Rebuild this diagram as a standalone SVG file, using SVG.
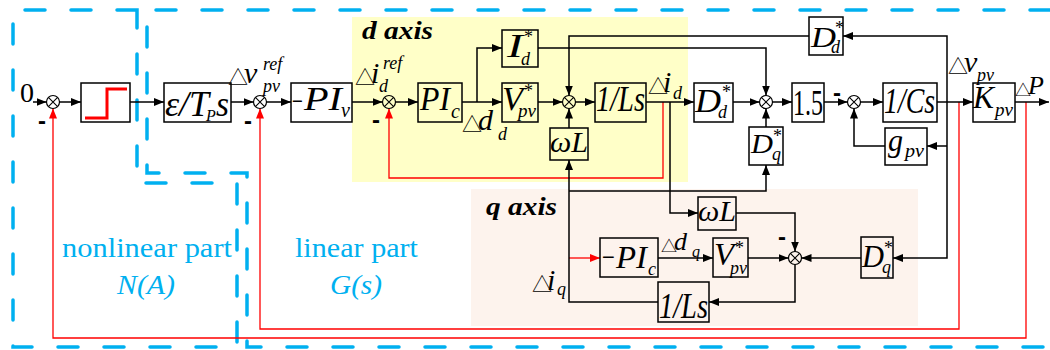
<svg xmlns="http://www.w3.org/2000/svg" width="1050" height="350" viewBox="0 0 1050 350" font-family="Liberation Serif">
<defs>
<marker id="a" markerWidth="10" markerHeight="8" refX="10" refY="4" orient="auto" markerUnits="userSpaceOnUse"><path d="M0,0 L10,4 L0,8 z" fill="#000" stroke="none"/></marker>
<marker id="ar" markerWidth="10" markerHeight="8" refX="10" refY="4" orient="auto" markerUnits="userSpaceOnUse"><path d="M0,0 L10,4 L0,8 z" fill="#f00" stroke="none"/></marker>
<g id="sumj"><circle r="6.5" fill="none" stroke="#000" stroke-width="1.2"/><path d="M-4.6,-4.6 L4.6,4.6 M-4.6,4.6 L4.6,-4.6" stroke="#000" stroke-width="1.1"/></g>
</defs>
<rect width="1050" height="350" fill="#fff"/>
<rect id="d-axis-bg" x="352" y="17" width="336" height="165" fill="#FFFFC8"/>
<rect id="q-axis-bg" x="471" y="189" width="447" height="137" fill="#FDF3ED"/>
<g id="regions">
<g fill="none" stroke="#00B0F0" stroke-width="3.5" stroke-dasharray="20 26" stroke-linecap="round">
<path d="M137,10 H13 V347 H237 V183 H137 Z"/>
<path d="M1050,10 H147 V173 H247 V347 H1050"/>
</g>
<g font-family="Liberation Serif" fill="#00B0F0" font-size="28">
<text x="62" y="257" textLength="170" lengthAdjust="spacingAndGlyphs">nonlinear part</text>
<text x="117" y="294" font-style="italic" textLength="58" lengthAdjust="spacingAndGlyphs">N(A)</text>
<text x="295" y="257" textLength="123" lengthAdjust="spacingAndGlyphs">linear part</text>
<text x="330" y="294" font-style="italic" textLength="52" lengthAdjust="spacingAndGlyphs">G(s)</text>
</g>
<g font-family="Liberation Serif" font-style="italic" font-weight="bold" font-size="26" fill="#000">
<text x="362" y="39" textLength="71" lengthAdjust="spacingAndGlyphs">d axis</text>
<text x="486" y="215" textLength="71" lengthAdjust="spacingAndGlyphs">q axis</text>
</g>
</g>
<g id="connectors" fill="none" stroke="#000" stroke-width="1.5">
<g stroke="#f00" stroke-width="1.3">
<path d="M663,102 V178 H389 V108.5" marker-end="url(#ar)"/>
<path d="M569,258 H600" marker-end="url(#ar)"/>
<path d="M959,102 V329 H260 V108.5" marker-end="url(#ar)"/>
<path d="M1026,102 V338 H53 V108.5" marker-end="url(#ar)"/>
</g>
<path d="M33,102 H46.5" marker-end="url(#a)"/>
<path d="M59.5,102 H81" marker-end="url(#a)"/>
<path d="M130,102 H164" marker-end="url(#a)"/>
<path d="M231,102 H253.5" marker-end="url(#a)"/>
<path d="M266.5,102 H291" marker-end="url(#a)"/>
<path d="M352,102 H382.5" marker-end="url(#a)"/>
<path d="M395.5,102 H418" marker-end="url(#a)"/>
<path d="M462,102 H502" marker-end="url(#a)"/>
<path d="M477,102 V48 H502" marker-end="url(#a)"/>
<path d="M538,102 H562.5" marker-end="url(#a)"/>
<path d="M575.5,102 H595" marker-end="url(#a)"/>
<path d="M646,102 H694" marker-end="url(#a)"/>
<path d="M733,102 H759.5" marker-end="url(#a)"/>
<path d="M772.5,102 H792" marker-end="url(#a)"/>
<path d="M824,102 H847.5" marker-end="url(#a)"/>
<path d="M860.5,102 H883" marker-end="url(#a)"/>
<path d="M937,102 H973" marker-end="url(#a)"/>
<path d="M1015,102 H1049" marker-end="url(#a)"/>
<path d="M947,102 V36 H843" marker-end="url(#a)"/>
<path d="M947,102 V258 H893" marker-end="url(#a)"/>
<path d="M947,146 H927" marker-end="url(#a)"/>
<path d="M809,36 H569 V95.5" marker-end="url(#a)"/>
<path d="M538,48 H766 V95.5" marker-end="url(#a)"/>
<path d="M569,128 V108.5" marker-end="url(#a)"/>
<path d="M766,127 V108.5" marker-end="url(#a)"/>
<path d="M885,146 H854 V108.5" marker-end="url(#a)"/>
<path d="M658,302 H569 V160" marker-end="url(#a)"/>
<path d="M569,191 H766 V165" marker-end="url(#a)"/>
<path d="M670,102 V213 H698" marker-end="url(#a)"/>
<path d="M736,213 H795 V251.5" marker-end="url(#a)"/>
<path d="M658,258 H713" marker-end="url(#a)"/>
<path d="M748,258 H788.5" marker-end="url(#a)"/>
<path d="M861,258 H801.5" marker-end="url(#a)"/>
<path d="M795,264.5 V302 H709" marker-end="url(#a)"/>
</g>
<g id="labels" fill="#000">
<text font-family="Liberation Serif" x="20" y="102" font-size="28">0</text>
<g font-family="Liberation Sans" font-weight="bold" font-size="24">
<text x="38" y="129">-</text>
<text x="244" y="129">-</text>
<text x="372" y="128">-</text>
<text x="833" y="101">-</text>
<text x="778" y="245">-</text>
</g>
<g font-family="Noto Sans CJK SC" font-size="20">
<text x="228" y="85">△</text>
<text x="355" y="85">△</text>
<text x="462" y="132">△</text>
<text x="648" y="94">△</text>
<text x="948" y="74">△</text>
<text x="1015" y="96" font-size="16">△</text>
<text x="532" y="292">△</text>
<text x="661" y="252" font-size="16">△</text>
</g>
<g font-family="Liberation Serif" font-style="italic">
<text x="244" y="83" font-size="30">v</text>
<text x="263" y="70" font-size="18">ref</text>
<text x="263" y="92" font-size="18">pv</text>
<text x="371" y="83" font-size="30">i</text>
<text x="383" y="69" font-size="18">ref</text>
<text x="379" y="92" font-size="18">d</text>
<text x="478" y="130" font-size="30">d</text>
<text x="498" y="140" font-size="18">d</text>
<text x="663" y="92" font-size="30">i</text>
<text x="673" y="99" font-size="18">d</text>
<text x="964" y="72" font-size="30">v</text>
<text x="977" y="81" font-size="18">pv</text>
<text x="1028" y="94" font-size="26">P</text>
<text x="547" y="290" font-size="30">i</text>
<text x="557" y="295" font-size="18">q</text>
<text x="674" y="250" font-size="26">d</text>
<text x="692" y="257" font-size="16">q</text>
</g>
</g>
<g id="sum1"><use href="#sumj" transform="translate(53,102)"/></g>
<g id="sum2"><use href="#sumj" transform="translate(260,102)"/></g>
<g id="sum3"><use href="#sumj" transform="translate(389,102)"/></g>
<g id="sum4"><use href="#sumj" transform="translate(569,102)"/></g>
<g id="sum5"><use href="#sumj" transform="translate(766,102)"/></g>
<g id="sum6"><use href="#sumj" transform="translate(854,102)"/></g>
<g id="sumq"><use href="#sumj" transform="translate(795,258)"/></g>
<g id="saturation"><rect x="81" y="83" width="49" height="39" fill="none" stroke="#000" stroke-width="1.5"/><path d="M85,118 H107 V89 H127" fill="none" stroke="#f00" stroke-width="3"/></g>
<g id="blocks" font-family="Liberation Serif" font-style="italic" fill="#000">
<g id="eps-Tps"><rect x="164" y="83" width="67" height="39" fill="none" stroke="#000" stroke-width="1.5"/>
<text x="165" y="116" font-size="36" textLength="44" lengthAdjust="spacingAndGlyphs">ε/T</text>
<text x="206" y="121" font-size="16">P</text>
<text x="216" y="116" font-size="36" textLength="13" lengthAdjust="spacingAndGlyphs">s</text></g>
<g id="PIv"><rect x="291" y="83" width="61" height="39" fill="none" stroke="#000" stroke-width="1.5"/>
<text x="292" y="111" font-size="30" font-style="normal" textLength="11" lengthAdjust="spacingAndGlyphs">−</text>
<text x="304" y="110" font-size="34" textLength="38" lengthAdjust="spacingAndGlyphs">PI</text>
<text x="341" y="117" font-size="20">v</text></g>
<g id="PIc"><rect x="418" y="83" width="44" height="39" fill="none" stroke="#000" stroke-width="1.5"/>
<text x="420" y="110" font-size="34" textLength="30" lengthAdjust="spacingAndGlyphs">PI</text>
<text x="451" y="118" font-size="20">c</text></g>
<g id="Id"><rect x="502" y="30" width="36" height="37" fill="none" stroke="#000" stroke-width="1.5"/>
<text x="507" y="57" font-size="34" textLength="16" lengthAdjust="spacingAndGlyphs">I</text>
<text x="524" y="43" font-size="18" font-style="normal">*</text>
<text x="521" y="65" font-size="18">d</text></g>
<g id="Vpv-d"><rect x="502" y="83" width="36" height="39" fill="none" stroke="#000" stroke-width="1.5"/>
<text x="502" y="110" font-size="34" textLength="21" lengthAdjust="spacingAndGlyphs">V</text>
<text x="524" y="97" font-size="18" font-style="normal">*</text>
<text x="518" y="117" font-size="18" textLength="18" lengthAdjust="spacingAndGlyphs">pv</text></g>
<g id="Ls-d"><rect x="595" y="83" width="51" height="39" fill="none" stroke="#000" stroke-width="1.5"/>
<text x="596" y="111" font-size="36" textLength="49" lengthAdjust="spacingAndGlyphs">1/Ls</text></g>
<g id="wL-d"><rect x="550" y="128" width="38" height="32" fill="none" stroke="#000" stroke-width="1.5"/>
<text x="550" y="152" font-size="30" textLength="38" lengthAdjust="spacingAndGlyphs">ωL</text></g>
<g id="Dd-main"><rect x="694" y="83" width="39" height="39" fill="none" stroke="#000" stroke-width="1.5"/>
<text x="695" y="112" font-size="34" textLength="26" lengthAdjust="spacingAndGlyphs">D</text>
<text x="722" y="98" font-size="18" font-style="normal">*</text>
<text x="718" y="118" font-size="18">d</text></g>
<g id="Dd-top"><rect x="809" y="17" width="34" height="38" fill="none" stroke="#000" stroke-width="1.5"/>
<text x="811" y="47" font-size="30" textLength="25" lengthAdjust="spacingAndGlyphs">D</text>
<text x="835" y="34" font-size="18" font-style="normal">*</text>
<text x="831" y="53" font-size="18">d</text></g>
<g id="Dq-d"><rect x="749" y="127" width="34" height="38" fill="none" stroke="#000" stroke-width="1.5"/>
<text x="751" y="153" font-size="28" textLength="22" lengthAdjust="spacingAndGlyphs">D</text>
<text x="773" y="142" font-size="18" font-style="normal">*</text>
<text x="772" y="160" font-size="18">q</text></g>
<g id="gain15"><rect x="792" y="83" width="32" height="39" fill="none" stroke="#000" stroke-width="1.5"/>
<text x="793" y="115" font-size="36" font-style="normal" textLength="30" lengthAdjust="spacingAndGlyphs">1.5</text></g>
<g id="Cs"><rect x="883" y="83" width="54" height="39" fill="none" stroke="#000" stroke-width="1.5"/>
<text x="884" y="113" font-size="36" textLength="51" lengthAdjust="spacingAndGlyphs">1/Cs</text></g>
<g id="gpv"><rect x="885" y="128" width="42" height="37" fill="none" stroke="#000" stroke-width="1.5"/>
<text x="888" y="151" font-size="32" textLength="15" lengthAdjust="spacingAndGlyphs">g</text>
<text x="905" y="157" font-size="18" textLength="19" lengthAdjust="spacingAndGlyphs">pv</text></g>
<g id="Kpv"><rect x="973" y="83" width="42" height="39" fill="none" stroke="#000" stroke-width="1.5"/>
<text x="973" y="108" font-size="32" textLength="21" lengthAdjust="spacingAndGlyphs">K</text>
<text x="995" y="116" font-size="18" textLength="18" lengthAdjust="spacingAndGlyphs">pv</text></g>
<g id="wL-q"><rect x="698" y="197" width="38" height="33" fill="none" stroke="#000" stroke-width="1.5"/>
<text x="698" y="221" font-size="30" textLength="38" lengthAdjust="spacingAndGlyphs">ωL</text></g>
<g id="PIc-q"><rect x="600" y="238" width="58" height="39" fill="none" stroke="#000" stroke-width="1.5"/>
<text x="602" y="267" font-size="30" font-style="normal" textLength="13" lengthAdjust="spacingAndGlyphs">−</text>
<text x="616" y="268" font-size="32" textLength="31" lengthAdjust="spacingAndGlyphs">PI</text>
<text x="648" y="275" font-size="18">c</text></g>
<g id="Vpv-q"><rect x="713" y="238" width="35" height="39" fill="none" stroke="#000" stroke-width="1.5"/>
<text x="714" y="265" font-size="32" textLength="20" lengthAdjust="spacingAndGlyphs">V</text>
<text x="735" y="254" font-size="18" font-style="normal">*</text>
<text x="730" y="274" font-size="18" textLength="17" lengthAdjust="spacingAndGlyphs">pv</text></g>
<g id="Dq-q"><rect x="861" y="237" width="32" height="41" fill="none" stroke="#000" stroke-width="1.5"/>
<text x="862" y="267" font-size="32" textLength="22" lengthAdjust="spacingAndGlyphs">D</text>
<text x="884" y="254" font-size="18" font-style="normal">*</text>
<text x="882" y="273" font-size="18">q</text></g>
<g id="Ls-q"><rect x="658" y="282" width="51" height="40" fill="none" stroke="#000" stroke-width="1.5"/>
<text x="659" y="318" font-size="36" textLength="49" lengthAdjust="spacingAndGlyphs">1/Ls</text></g>
</g>
</svg>
